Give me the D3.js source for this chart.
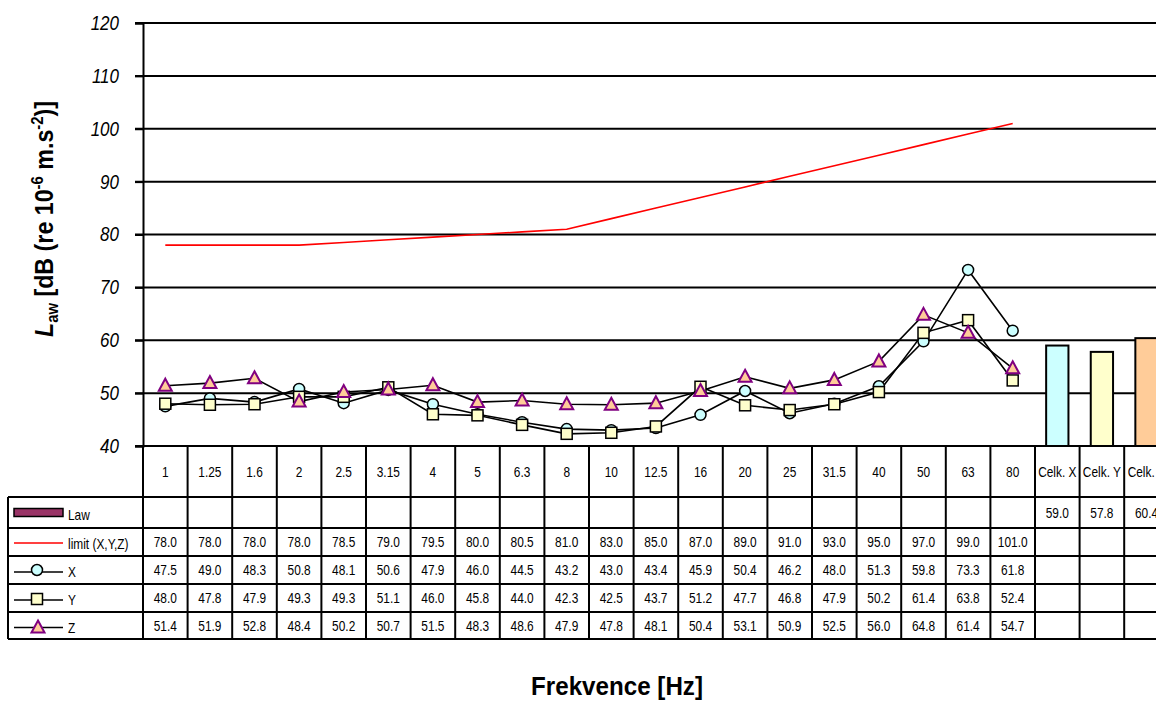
<!DOCTYPE html>
<html>
<head>
<meta charset="utf-8">
<script src="https://cdn.jsdelivr.net/npm/d3@7/dist/d3.min.js"></script>
<style>
  html, body { margin: 0; padding: 0; background: #fff; }
  svg { display: block; }
  text { font-family: "Liberation Sans", Arial, sans-serif; }
</style>
</head>
<body>
<svg id="chart" width="1156" height="702"></svg>
<script>
// Frequency bands (1/3 octave) and overall totals
const freqs = ["1","1.25","1.6","2","2.5","3.15","4","5","6.3","8","10","12.5","16","20","25","31.5","40","50","63","80"];
const totals = ["Celk. X","Celk. Y","Celk. Z"];
const categories = freqs.concat(totals);

// Overall weighted levels (bars)
const lawValues = [59.0, 57.8, 60.4];
const lawColors = ["#CCFFFF", "#FFFFCC", "#FFCC99"];

// Limit curve and per-axis spectra
const limitValues = [78.0,78.0,78.0,78.0,78.5,79.0,79.5,80.0,80.5,81.0,83.0,85.0,87.0,89.0,91.0,93.0,95.0,97.0,99.0,101.0];
const xValues = [47.5,49.0,48.3,50.8,48.1,50.6,47.9,46.0,44.5,43.2,43.0,43.4,45.9,50.4,46.2,48.0,51.3,59.8,73.3,61.8];
const yValues = [48.0,47.8,47.9,49.3,49.3,51.1,46.0,45.8,44.0,42.3,42.5,43.7,51.2,47.7,46.8,47.9,50.2,61.4,63.8,52.4];
const zValues = [51.4,51.9,52.8,48.4,50.2,50.7,51.5,48.3,48.6,47.9,47.8,48.1,50.4,53.1,50.9,52.5,56.0,64.8,61.4,54.7];

const yTicks = [40, 50, 60, 70, 80, 90, 100, 110, 120];

const svg = d3.select("#chart");
const NARROW = 0.85; // horizontal squeeze giving a condensed look

// Plot geometry
const plotLeft = 143, plotTop = 23, plotBottom = 446, colW = 44.6;
const x = d3.scaleBand().domain(categories).range([plotLeft, plotLeft + categories.length * colW]).padding(0);
const y = d3.scaleLinear().domain([40, 120]).range([plotBottom, plotTop]);
const cx = c => x(c) + x.bandwidth() / 2;

// Place a condensed text at (tx, ty)
function narrowText(g, tx, ty, str, size, anchor) {
  return g.append("text")
    .attr("transform", `translate(${tx},${ty}) scale(${NARROW},1)`)
    .attr("text-anchor", anchor || "middle")
    .attr("font-size", size).text(str);
}

// Horizontal gridlines
svg.append("g").selectAll("line").data(yTicks).join("line")
  .attr("x1", plotLeft - 8).attr("x2", 1156)
  .attr("y1", d => y(d)).attr("y2", d => y(d))
  .attr("stroke", "#000").attr("stroke-width", 2);

// Y axis (line + labels)
const yAxis = d3.axisLeft(y).tickValues(yTicks).tickSize(8).tickPadding(16).tickFormat(d3.format("d"));
const gy = svg.append("g").attr("transform", `translate(${plotLeft},0)`).call(yAxis);
gy.select(".domain").attr("stroke", "#000").attr("stroke-width", 2);
gy.selectAll(".tick line").attr("stroke", "#000").attr("stroke-width", 2);
gy.selectAll(".tick text")
  .attr("font-size", 20).attr("font-style", "italic").attr("fill", "#000")
  .attr("font-family", "'Liberation Sans',Arial,sans-serif")
  .attr("transform", `translate(-24,0) scale(${NARROW},1)`)
  .attr("x", 0);

// Bars for overall levels
svg.append("g").selectAll("rect").data(totals).join("rect")
  .attr("x", d => cx(d) - x.bandwidth() * 0.25)
  .attr("width", x.bandwidth() * 0.5)
  .attr("y", (d, i) => y(lawValues[i]))
  .attr("height", (d, i) => y(40) - y(lawValues[i]))
  .attr("fill", (d, i) => lawColors[i])
  .attr("stroke", "#000").attr("stroke-width", 2);

// Lines
const line = d3.line().x(d => cx(d.c)).y(d => y(d.v));
const pts = vals => vals.map((v, i) => ({ c: freqs[i], v }));

svg.append("path").datum(pts(limitValues)).attr("d", line)
  .attr("fill", "none").attr("stroke", "#FF0000").attr("stroke-width", 1.6);

[xValues, yValues, zValues].forEach(vals => {
  svg.append("path").datum(pts(vals)).attr("d", line)
    .attr("fill", "none").attr("stroke", "#000").attr("stroke-width", 1.6);
});

// Markers
function drawCircles(g, px, py) {
  g.append("circle").attr("cx", px).attr("cy", py).attr("r", 5.5)
    .attr("fill", "#CCFFFF").attr("stroke", "#000").attr("stroke-width", 1.5);
}
function drawSquares(g, px, py) {
  g.append("rect").attr("x", px - 5.5).attr("y", py - 5.5).attr("width", 11).attr("height", 11)
    .attr("fill", "#FFFFCC").attr("stroke", "#000").attr("stroke-width", 1.5);
}
function drawTriangles(g, px, py) {
  g.append("path").attr("d", `M${px},${py - 7} L${px + 6.5},${py + 5} L${px - 6.5},${py + 5} Z`)
    .attr("fill", "#FFCC99").attr("stroke", "#800080").attr("stroke-width", 2).attr("stroke-linejoin", "miter");
}
const mX = svg.append("g"), mY = svg.append("g"), mZ = svg.append("g");
xValues.forEach((v, i) => drawCircles(mX, cx(freqs[i]), y(v)));
yValues.forEach((v, i) => drawSquares(mY, cx(freqs[i]), y(v)));
zValues.forEach((v, i) => drawTriangles(mZ, cx(freqs[i]), y(v)));

// Data table below the plot
const rowY = [446, 497, 528, 556, 584, 612, 639];
const tableLeft = 8;
const rightEdge = plotLeft + categories.length * colW;
const tg = svg.append("g").attr("stroke", "#000").attr("stroke-width", 2);
// horizontal rules
rowY.forEach((ry, i) => {
  tg.append("line").attr("x1", i === 0 ? plotLeft : tableLeft).attr("x2", rightEdge).attr("y1", ry).attr("y2", ry);
});
// vertical rules
d3.range(categories.length + 1).forEach(i => {
  const vx = plotLeft + i * colW;
  tg.append("line").attr("x1", vx).attr("x2", vx).attr("y1", rowY[0]).attr("y2", rowY[6]);
});
tg.append("line").attr("x1", tableLeft).attr("x2", tableLeft).attr("y1", rowY[1]).attr("y2", rowY[6]);

// header labels
const tableFont = 14;
const txt = svg.append("g");
categories.forEach(c => narrowText(txt, cx(c), (rowY[0] + rowY[1]) / 2 + 5, c, tableFont));

// value rows
const fmt = d3.format(".1f");
function valueRow(vals, cats, r) {
  vals.forEach((v, i) => narrowText(txt, cx(cats[i]), (rowY[r] + rowY[r + 1]) / 2 + 5, fmt(v), tableFont));
}
valueRow(lawValues, totals, 1);
valueRow(limitValues, freqs, 2);
valueRow(xValues, freqs, 3);
valueRow(yValues, freqs, 4);
valueRow(zValues, freqs, 5);

// legend keys in first column
const lg = svg.append("g");
const ky = r => (rowY[r] + rowY[r + 1]) / 2;
lg.append("rect").attr("x", 14).attr("y", ky(1) - 4).attr("width", 49).attr("height", 8)
  .attr("fill", "#993366").attr("stroke", "#000").attr("stroke-width", 1.5);
lg.append("line").attr("x1", 14).attr("x2", 63).attr("y1", ky(2) + 1).attr("y2", ky(2) + 1)
  .attr("stroke", "#FF0000").attr("stroke-width", 1.6);
[3, 4, 5].forEach(r => {
  lg.append("line").attr("x1", 14).attr("x2", 63).attr("y1", ky(r) + 2).attr("y2", ky(r) + 2)
    .attr("stroke", "#000").attr("stroke-width", 1.6);
});
drawCircles(lg, 37, ky(3));
drawSquares(lg, 37, ky(4) + 1);
drawTriangles(lg, 38, ky(5) + 2);
const legendNames = ["Law", "limit (X,Y,Z)", "X", "Y", "Z"];
legendNames.forEach((n, i) => narrowText(lg, 68, ky(i + 1) + 7, n, tableFont, "start"));

// Axis titles
const yt = svg.append("text")
  .attr("transform", "translate(53,219) rotate(-90) scale(0.93,1)")
  .attr("text-anchor", "middle").attr("font-size", 25).attr("font-weight", "bold");
yt.append("tspan").attr("font-style", "italic").text("L");
yt.append("tspan").attr("font-size", 16).attr("dy", 5).text("aw");
yt.append("tspan").attr("dy", -5).text(" [dB (re 10");
yt.append("tspan").attr("font-size", 16).attr("dy", -10).text("-6");
yt.append("tspan").attr("dy", 10).text(" m.s");
yt.append("tspan").attr("font-size", 16).attr("dy", -10).text("-2");
yt.append("tspan").attr("dy", 10).text(")]");

svg.append("text")
  .attr("transform", "translate(617,695) scale(0.93,1)")
  .attr("text-anchor", "middle").attr("font-size", 26).attr("font-weight", "bold")
  .text("Frekvence [Hz]");
</script>
</body>
</html>
